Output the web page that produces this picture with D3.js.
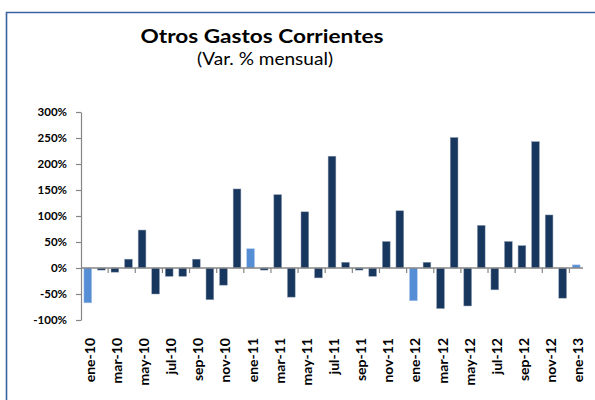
<!DOCTYPE html>
<html>
<head>
<meta charset="utf-8">
<script src="https://cdn.jsdelivr.net/npm/d3@7"></script>
<style>
  html, body { margin: 0; padding: 0; background: #fff; }
  svg { display: block; }
</style>
</head>
<body>
<svg id="chart" width="595" height="400"></svg>
<script>
const months = [
  "ene-10","feb-10","mar-10","abr-10","may-10","jun-10","jul-10","ago-10","sep-10","oct-10","nov-10","dic-10",
  "ene-11","feb-11","mar-11","abr-11","may-11","jun-11","jul-11","ago-11","sep-11","oct-11","nov-11","dic-11",
  "ene-12","feb-12","mar-12","abr-12","may-12","jun-12","jul-12","ago-12","sep-12","oct-12","nov-12","dic-12",
  "ene-13"
];
const values = [
  -67, -4, -8, 17, 73, -50, -16, -16, 17, -61, -33, 152,
  37, -4, 141, -56, 108, -19, 215, 11, -4, -16, 51, 110,
  -63, 11, -78, 251, -73, 82, -42, 51, 43, 243, 102, -58,
  6
];
const yTicks = [-100, -50, 0, 50, 100, 150, 200, 250, 300];
const titleText = "Otros Gastos Corrientes";
const subtitleText = "(Var. % mensual)";

const svg = d3.select("#chart");
const font = "Lato, 'Open Sans', sans-serif";

// frame
svg.append("path")
  .attr("d", "M6.5,400 L6.5,12.5 L595,12.5")
  .attr("fill", "none")
  .attr("stroke", "#3a62a0")
  .attr("stroke-width", 1.6);

// titles
svg.append("text")
  .attr("x", 262).attr("y", 43)
  .attr("text-anchor", "middle")
  .attr("font-family", font).attr("font-weight", "bold").attr("font-size", 19.5)
  .attr("textLength", 243).attr("lengthAdjust", "spacingAndGlyphs")
  .attr("fill", "#000")
  .text(titleText);
svg.append("text")
  .attr("x", 265).attr("y", 64.5)
  .attr("text-anchor", "middle")
  .attr("font-family", font).attr("font-size", 17.5)
  .attr("textLength", 136).attr("lengthAdjust", "spacingAndGlyphs")
  .attr("fill", "#000")
  .text(subtitleText);

const x = d3.scaleBand().domain(months).range([81, 583]).paddingInner(0.43).paddingOuter(0.215);
const y = d3.scaleLinear().domain([-100, 300]).range([320, 112]);
const step = x.step();

// bars
svg.append("g").selectAll("rect")
  .data(months.map((m, i) => ({ m, v: values[i] })))
  .join("rect")
  .attr("x", d => x(d.m))
  .attr("width", x.bandwidth())
  .attr("y", d => y(Math.max(0, d.v)))
  .attr("height", d => Math.abs(y(d.v) - y(0)))
  .attr("fill", d => d.m.startsWith("ene") ? "#558ed5" : "#17375e")
  .attr("stroke", d => d.m.startsWith("ene") ? "#a9c4ea" : "#8e9bb0")
  .attr("stroke-width", 0.5);

// y axis
const yAxis = d3.axisLeft(y).tickValues(yTicks).tickSize(5).tickSizeOuter(0).tickPadding(9)
  .tickFormat(d => d + "%");
const gy = svg.append("g").attr("transform", "translate(81,0)").call(yAxis);
gy.select(".domain").attr("stroke", "#868686").attr("stroke-width", 1.2);
gy.selectAll(".tick line").attr("stroke", "#868686").attr("stroke-width", 1.2);
gy.selectAll(".tick text")
  .attr("font-family", font).attr("font-weight", "bold").attr("font-size", 11.5)
  .attr("fill", "#000");

// zero axis line
svg.append("line")
  .attr("x1", 81).attr("x2", 583).attr("y1", y(0)).attr("y2", y(0))
  .attr("stroke", "#868686").attr("stroke-width", 1.5);

// x ticks at every second category boundary
const boundaries = d3.range(2, months.length, 2);
svg.append("g").selectAll("line")
  .data(boundaries)
  .join("line")
  .attr("x1", i => 81 + i * step).attr("x2", i => 81 + i * step)
  .attr("y1", y(0)).attr("y2", y(0) + 5)
  .attr("stroke", "#868686").attr("stroke-width", 1.2);

// x labels
const labelMonths = months.filter((m, i) => i % 2 === 0);
svg.append("g").selectAll("text")
  .data(labelMonths)
  .join("text")
  .attr("transform", m => `translate(${x(m) + x.bandwidth() / 2 + 7},338) rotate(-90)`)
  .attr("text-anchor", "end")
  .attr("font-family", font).attr("font-weight", "bold").attr("font-size", 14)
  .attr("fill", "#000")
  .text(m => m);
</script>
</body>
</html>
